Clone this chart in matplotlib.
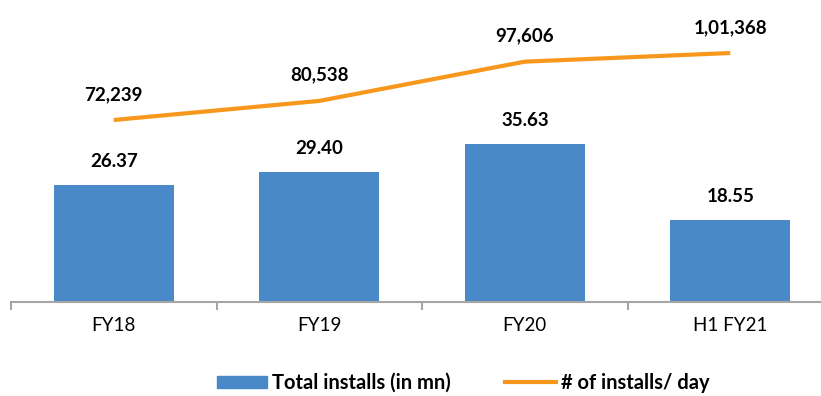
import numpy as np
import matplotlib
matplotlib.use("Agg")
import matplotlib.pyplot as plt
from matplotlib.ticker import FixedLocator, NullFormatter
from matplotlib.patches import Patch
from matplotlib.lines import Line2D

plt.rcParams['font.family'] = ['Lato', 'DejaVu Sans']

# data
periods = ['FY18', 'FY19', 'FY20', 'H1 FY21']
total_installs = [26.37, 29.40, 35.63, 18.55]      # in mn
installs_per_day = [72239, 80538, 97606, 101368]
bar_labels = ['26.37', '29.40', '35.63', '18.55']
line_labels = ['72,239', '80,538', '97,606', '1,01,368']

bar_color = '#4a89c8'
line_color = '#f7981d'
axis_gray = '#a6a6a6'

W, H = 821, 396
fig = plt.figure(figsize=(W / 100, H / 100), dpi=100)
ax = fig.add_axes([11 / W, 94 / H, 822 / W, 302 / H])
ax2 = ax.twinx()

x = np.arange(len(periods))
ax.bar(x, total_installs, width=0.584, color=bar_color, zorder=2)
ax.set_xlim(-0.5, 3.5)
ax.set_ylim(0, 68.2)

for xi, v, s in zip(x, total_installs, bar_labels):
    ax.annotate(s, (xi, v), xytext=(0, 17), textcoords='offset points',
                ha='center', va='center', fontsize=13.5, fontweight='bold')

ax2.plot(x, installs_per_day, color=line_color, lw=3, solid_capstyle='butt', zorder=3)
ax2.set_ylim(-6895, 124415)
for xi, v, s in zip(x, installs_per_day, line_labels):
    ax2.annotate(s, (xi, v), xytext=(0, 18.5), textcoords='offset points',
                 ha='center', va='center', fontsize=13.5, fontweight='bold')

# axes styling
for a in (ax, ax2):
    for side in ('top', 'right', 'left'):
        a.spines[side].set_visible(False)
    a.set_yticks([])
ax2.spines['bottom'].set_visible(False)
ax.spines['bottom'].set_color(axis_gray)
ax.spines['bottom'].set_linewidth(1.5)

ax.set_xticks(x)
ax.set_xticklabels(periods, fontsize=13.5)
ax.tick_params(axis='x', which='major', length=0, pad=11)
ax.xaxis.set_minor_locator(FixedLocator([-0.5, 0.5, 1.5, 2.5]))
ax.xaxis.set_minor_formatter(NullFormatter())
ax.tick_params(axis='x', which='minor', length=6, width=1.5, color=axis_gray)

# legend
handles = [Patch(color=bar_color, label='Total installs (in mn)'),
           Line2D([], [], color=line_color, lw=3, label='# of installs/ day')]
leg = fig.legend(handles=handles, loc='center', bbox_to_anchor=(463 / W, 1 - 383 / H),
                 ncol=2, frameon=False, prop={'weight': 'bold', 'size': 14.5},
                 handlelength=2.5, handleheight=0.55, handletextpad=0.25, columnspacing=2.7)

fig.savefig('out.png', dpi=100)
